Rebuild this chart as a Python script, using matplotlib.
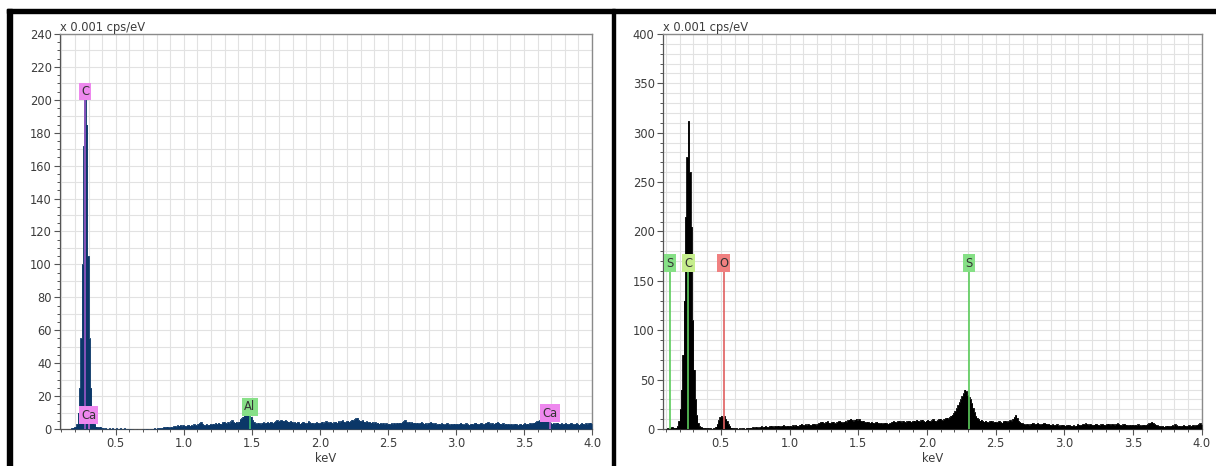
import numpy as np
import matplotlib
matplotlib.use("Agg")
import matplotlib.pyplot as plt
from matplotlib.ticker import MultipleLocator
from matplotlib.lines import Line2D
from matplotlib.patches import Rectangle

# ---------------- data ----------------
E_START = 0.10
E_STEP = 0.01

LEFT_COUNTS = [
    0, 0, 0, 0, 0, 0, 0, 0.5, 0.8, 1.0,
    1.5, 3, 10, 25, 55, 100, 172, 200, 185, 105,
    55, 25, 12, 5, 3, 1.5, 1.2, 1.0, 1.5, 0.8,
    0.5, 0.3, 0.6, 0.3, 0.2, 0.4, 0.3, 0.5, 0.2, 0.3,
    0.4, 0.2, 0.3, 0.5, 0.2, 0.3, 0.4, 0.2, 0.3, 0.2,
    0.2, 0.1, 0.1, 0, 0, 0.1, 0, 0, 0, 0.1,
    0.2, 0.1, 0.3, 0.2, 0.1, 0.3, 0.2, 0.3, 0.4, 0.3,
    0.5, 0.4, 0.6, 0.5, 0.8, 1.2, 1.0, 1.5, 1.2, 0.9,
    1.3, 1.1, 1.6, 1.8, 1.4, 2.2, 2.0, 2.5, 1.8, 2.3,
    2.0, 1.7, 2.2, 2.6, 2.0, 2.4, 2.1, 2.8, 2.5, 2.3,
    3.0, 3.6, 4.2, 3.3, 2.6, 2.2, 2.9, 2.4, 2.6, 3.1,
    2.7, 3.2, 2.8, 3.6, 3.0, 3.8, 3.3, 3.0, 4.0, 4.5,
    3.8, 3.4, 4.2, 3.6, 4.6, 5.2, 4.3, 3.9, 4.4, 3.8,
    4.5, 5.8, 6.5, 7.5, 8.2, 8.8, 9.4, 9.0, 9.5, 7.5,
    5.5, 4.2, 3.6, 3.2, 3.8, 3.4, 3.0, 3.6, 4.0, 3.5,
    3.8, 4.2, 3.7, 4.4, 4.0, 3.6, 4.3, 4.8, 5.2, 4.6,
    5.0, 5.4, 5.1, 4.8, 5.3, 4.9, 4.5, 4.2, 4.9, 4.4,
    3.8, 4.2, 3.6, 4.5, 4.0, 3.3, 3.8, 4.4, 3.9, 3.4,
    3.6, 4.6, 4.0, 3.5, 3.9, 3.2, 3.7, 4.1, 3.8, 3.4,
    3.9, 4.5, 3.6, 4.0, 4.7, 4.2, 3.8, 4.4, 3.9, 3.5,
    4.0, 4.4, 3.8, 4.6, 4.2, 4.8, 5.2, 4.5, 4.0, 4.6,
    5.0, 4.4, 4.9, 5.6, 5.2, 6.0, 6.4, 6.8, 5.5, 5.0,
    4.8, 5.3, 4.5, 4.1, 4.6, 4.0, 4.4, 3.8, 4.2, 3.6,
    4.0, 3.5, 3.9, 3.3, 3.7, 3.2, 3.6, 3.0, 3.4, 3.1,
    3.3, 2.9, 3.5, 3.1, 3.6, 3.2, 3.8, 3.4, 3.9, 3.6,
    4.2, 4.8, 5.3, 4.4, 3.9, 4.3, 3.7, 4.1, 3.6, 3.9,
    3.4, 3.8, 3.3, 3.7, 4.2, 3.6, 3.2, 3.5, 3.0, 3.4,
    3.8, 4.3, 3.7, 3.2, 3.6, 3.0, 2.8, 3.3, 2.9, 3.4,
    3.1, 2.7, 3.2, 3.6, 3.0, 2.6, 3.1, 2.8, 3.3, 2.9,
    3.2, 2.8, 3.3, 3.7, 3.1, 2.7, 3.0, 3.4, 2.9, 2.6,
    2.9, 3.3, 2.8, 3.5, 3.9, 3.2, 2.8, 3.3, 3.7, 3.1,
    2.9, 3.4, 3.9, 4.2, 3.6, 3.1, 3.5, 3.0, 3.3, 3.8,
    4.2, 3.7, 3.3, 3.0, 3.4, 2.9, 3.2, 2.8, 3.1, 2.7,
    3.0, 2.6, 2.9, 3.3, 2.8, 2.5, 2.8, 3.2, 2.7, 3.0,
    3.4, 2.9, 3.3, 3.0, 3.5, 3.2, 3.6, 3.9, 4.2, 4.6,
    4.9, 5.2, 5.5, 5.3, 5.0, 5.6, 5.2, 4.6, 4.0, 3.5,
    3.2, 3.6, 3.1, 3.5, 3.9, 3.3, 3.0, 3.4, 2.9, 3.2,
    3.6, 3.1, 2.8, 3.3, 3.7, 3.2, 2.8, 3.1, 3.5, 3.0,
    2.7, 3.1, 3.6, 3.2, 2.9, 3.4, 3.0, 3.5, 3.9, 3.3,
]

RIGHT_COUNTS = [
    0.5, 0.8, 1.0, 1.5, 2.0, 1.5, 1.0, 1.5, 3, 8,
    20, 40, 75, 130, 215, 275, 312, 260, 205, 110,
    60, 30, 14, 6, 3, 2, 1.5, 1.0, 1.2, 0.8,
    1.0, 0.6, 0.8, 0.5, 0.7, 1.0, 2.5, 5, 9, 12,
    13.5, 12, 13, 10, 8, 5, 3, 1.5, 1.0, 0.8,
    0.6, 0.8, 0.5, 0.7, 0.4, 0.6, 0.9, 0.5, 0.8, 1.2,
    0.9, 1.4, 1.1, 1.8, 1.3, 2.2, 1.6, 1.2, 2.0, 2.6,
    1.8, 2.4, 3.0, 2.2, 1.9, 2.8, 3.4, 2.6, 2.1, 3.1,
    2.7, 3.5, 2.9, 2.4, 3.2, 3.8, 3.0, 2.6, 3.4, 2.8,
    3.3, 2.7, 3.6, 3.1, 4.2, 3.5, 3.0, 4.4, 5.2, 4.3,
    3.8, 4.6, 4.0, 5.0, 4.4, 3.9, 4.8, 5.4, 4.6, 4.1,
    5.2, 6.0, 6.8, 7.5, 6.4, 5.8, 6.9, 7.8, 6.5, 5.9,
    6.6, 7.4, 6.2, 5.6, 6.8, 7.6, 8.2, 7.0, 6.4, 7.2,
    8.0, 7.2, 8.8, 9.6, 10.5, 9.2, 8.0, 9.4, 10.2, 8.8,
    9.8, 8.6, 7.8, 8.5, 7.2, 6.6, 7.4, 6.8, 6.2, 7.0,
    6.4, 5.8, 6.6, 7.4, 6.2, 5.6, 6.0, 5.4, 5.9, 6.5,
    5.8, 5.2, 5.6, 6.4, 7.2, 8.0, 7.4, 6.6, 7.8, 8.4,
    7.6, 7.0, 8.2, 7.4, 6.8, 7.6, 8.4, 7.8, 7.0, 7.8,
    8.6, 7.8, 9.4, 8.4, 7.6, 8.8, 9.6, 8.2, 7.4, 8.6,
    9.2, 8.4, 7.8, 9.0, 10.0, 8.6, 7.8, 8.8, 9.8, 10.6,
    9.4, 8.6, 9.8, 10.8, 11.6, 10.4, 12.0, 13.4, 14.5, 16.5,
    18, 21, 24, 27, 30, 33, 36, 40, 38, 34,
    32, 30, 26, 21, 17, 13, 11, 10, 8.5, 9.5,
    8.0, 7.4, 8.6, 7.2, 6.6, 7.8, 8.4, 7.6, 6.8, 7.4,
    6.6, 7.2, 8.2, 7.0, 6.4, 7.6, 8.6, 7.8, 7.2, 8.0,
    9.0, 8.2, 10.0, 12.0, 14.0, 11.0, 8.4, 7.0, 6.2, 5.6,
    5.0, 4.4, 5.2, 4.6, 4.0, 5.4, 6.2, 5.6, 4.8, 5.2,
    5.8, 5.0, 4.4, 5.2, 5.8, 6.0, 5.4, 4.8, 5.2, 4.4,
    4.0, 4.6, 3.8, 4.2, 4.8, 3.6, 3.2, 3.8, 4.4, 3.6,
    3.2, 3.6, 4.2, 3.8, 3.4, 3.0, 3.6, 2.8, 3.4, 4.8,
    4.2, 3.6, 4.4, 5.0, 4.6, 5.6, 4.8, 4.2, 5.0, 4.4,
    3.8, 4.4, 5.2, 4.8, 4.2, 3.6, 4.6, 5.0, 4.4, 3.8,
    4.6, 5.4, 4.8, 4.2, 5.0, 4.6, 4.0, 4.8, 5.6, 4.8,
    4.2, 3.8, 4.6, 5.2, 4.4, 4.0, 3.6, 4.2, 3.8, 4.4,
    3.6, 4.2, 3.8, 4.6, 4.0, 3.4, 3.8, 4.4, 3.8, 4.2,
    4.8, 5.6, 6.4, 7.2, 6.0, 5.0, 4.2, 3.6, 3.2, 2.8,
    2.6, 3.0, 2.4, 2.8, 3.4, 3.0, 2.6, 3.2, 3.8, 3.2,
    4.6, 3.6, 3.0, 3.4, 2.8, 3.2, 3.8, 3.4, 2.8, 3.2,
    3.6, 3.0, 3.4, 3.8, 3.2, 3.6, 4.2, 4.8, 5.6, 4.8,
]

# element markers: label, energy (keV), label height, line top, box colour
LEFT_MARKS_LABEL = ["C", "Ca", "Al", "Ca"]
LEFT_MARKS_E = [0.275, 0.30, 1.486, 3.69]
LEFT_MARKS_Y = [205, 8.5, 13.5, 9.7]
LEFT_MARKS_COLOR = ["#ee88ee", "#ee88ee", "#88e088", "#ee88ee"]
LEFT_LINE_COLOR = ["#9a58c8", "#c060d0", "#3fbf6f", "#b060c8"]

RIGHT_MARKS_LABEL = ["S", "C", "O", "S"]
RIGHT_MARKS_E = [0.13, 0.265, 0.52, 2.307]
RIGHT_MARKS_Y = [168, 168, 168, 168]
RIGHT_MARKS_COLOR = ["#86e086", "#c6ee8c", "#f08080", "#86e086"]
RIGHT_LINE_COLOR = ["#5ccc5c", "#5ccc5c", "#e06060", "#5ccc5c"]

X_TICKS = [0.5, 1.0, 1.5, 2.0, 2.5, 3.0, 3.5, 4.0]

# ---------------- figure ----------------
W, H = 1216, 466
fig = plt.figure(figsize=(W / 100, H / 100), dpi=100)
fig.patch.set_facecolor("white")

def fx(px):
    return px / W

def fy(py):
    return 1 - py / H

# frame bars (black)
fig.patches.append(Rectangle((fx(7), fy(13)), fx(W - 7), 4 / H, transform=fig.transFigure,
                             color="black", zorder=10))
fig.patches.append(Rectangle((fx(7), 0), 5 / W, fy(9), transform=fig.transFigure,
                             color="black", zorder=10))
fig.patches.append(Rectangle((fx(611.5), 0), 3 / W, fy(9), transform=fig.transFigure,
                             color="black", zorder=10))

TXT = "#3c3c3c"
FS = 8.3


def make_axes(rect, counts, xmin, ymax, ymajor, yminor, ygrid, fillcolor,
              labels, energies, ys, colors, linecolors, line_top):
    ax = fig.add_axes(rect)
    n = len(counts)
    e = E_START + E_STEP * np.arange(n + 1)
    c = np.append(np.array(counts, dtype=float), counts[-1])
    ax.fill_between(e, c, step="post", color=fillcolor, lw=0, zorder=3)
    ax.step(e, c, where="post", color=fillcolor, lw=0.6, zorder=3)
    ax.set_xlim(xmin, 4.0)
    ax.set_ylim(0, ymax)

    # grid
    for gx in np.arange(0.1, 4.0001, 0.1):
        if gx > xmin:
            ax.axvline(gx, color="#e2e2e2", lw=0.8, zorder=1)
    for gy in np.arange(ygrid, ymax + 0.001, ygrid):
        ax.axhline(gy, color="#e2e2e2", lw=0.8, zorder=1)

    ax.set_xticks(X_TICKS)
    ax.set_xticklabels([f"{t:.1f}" for t in X_TICKS])
    ax.xaxis.set_minor_locator(MultipleLocator(0.1))
    ax.yaxis.set_major_locator(MultipleLocator(ymajor))
    ax.yaxis.set_minor_locator(MultipleLocator(yminor))
    ax.tick_params(axis="both", which="major", direction="out", length=4, width=0.8,
                   colors="#555555", labelcolor=TXT, labelsize=FS, pad=2)
    ax.tick_params(axis="both", which="minor", direction="out", length=2.5, width=0.7,
                   colors="#555555")
    for s in ["left", "bottom"]:
        ax.spines[s].set_color("#555555")
        ax.spines[s].set_linewidth(0.9)
    for s in ["top", "right"]:
        ax.spines[s].set_color("#8a8a8a")
        ax.spines[s].set_linewidth(1.0)
    ax.set_xlabel("keV", fontsize=FS, color=TXT, labelpad=1)
    ax.text(0.0, 1.0, "x 0.001 cps/eV", transform=ax.transAxes, fontsize=FS,
            color=TXT, ha="left", va="bottom")

    for lab, en, yy, col, lc, lt in zip(labels, energies, ys, colors, linecolors, line_top):
        if lt > 0:
            ax.plot([en, en], [0, lt], color=lc, lw=1.2, zorder=4)
        ax.text(en, yy, lab, fontsize=FS, color="#333333", ha="center", va="center",
                zorder=6,
                bbox=dict(boxstyle="square,pad=0.2", fc=col, ec="none"))
    return ax


ax1 = make_axes([fx(60), fy(429), fx(592 - 60), (429 - 34) / H], LEFT_COUNTS, 0.09, 240,
                20, 5, 10, "#0b3768", LEFT_MARKS_LABEL, LEFT_MARKS_E, LEFT_MARKS_Y,
                LEFT_MARKS_COLOR, LEFT_LINE_COLOR, [200, 4, 9, 5])

ax2 = make_axes([fx(663), fy(429), fx(1202 - 663), (429 - 34) / H], RIGHT_COUNTS, 0.08, 400,
                50, 10, 10, "#000000", RIGHT_MARKS_LABEL, RIGHT_MARKS_E, RIGHT_MARKS_Y,
                RIGHT_MARKS_COLOR, RIGHT_LINE_COLOR, [160, 160, 160, 160])

fig.savefig("out.png", dpi=100, facecolor="white")
